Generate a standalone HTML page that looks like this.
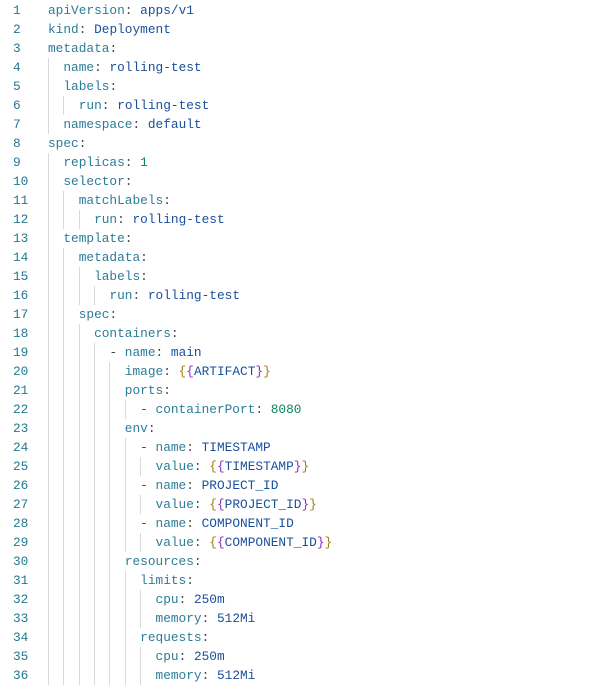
<!DOCTYPE html>
<html><head><meta charset="utf-8"><style>
body{margin:0;background:#fff;width:610px;height:688px;overflow:hidden;position:relative;font-family:"Liberation Mono","DejaVu Sans Mono",monospace;font-size:12.8px}
.l{position:absolute;left:0;height:19px;line-height:19px;white-space:pre;width:610px}
.n{position:absolute;left:13px;color:#237893}
.c{position:absolute;left:48px}
.g{position:absolute;top:0;width:1px;height:19px;background:#d9d9d9}
.k{color:#2b7d98}.p{color:#444}.v{color:#1a4f9c}.d{color:#098658}.b1{color:#a37b0a}.b2{color:#8b2bc4}
</style></head><body>
<script>
const L=[
"apiVersion: apps/v1","kind: Deployment","metadata:","  name: rolling-test","  labels:","    run: rolling-test","  namespace: default","spec:","  replicas: 1","  selector:","    matchLabels:","      run: rolling-test","  template:","    metadata:","      labels:","        run: rolling-test","    spec:","      containers:","        - name: main","          image: {{ARTIFACT}}","          ports:","            - containerPort: 8080","          env:","            - name: TIMESTAMP","              value: {{TIMESTAMP}}","            - name: PROJECT_ID","              value: {{PROJECT_ID}}","            - name: COMPONENT_ID","              value: {{COMPONENT_ID}}","          resources:","            limits:","              cpu: 250m","              memory: 512Mi","            requests:","              cpu: 250m","              memory: 512Mi"];
const cw=7.68;let h='';
function esc(s){return s.replace(/&/g,'&amp;').replace(/</g,'&lt;')}
function val(v){
 if(/^\d+$/.test(v))return '<span class="d">'+v+'</span>';
 let m=v.match(/^\{\{(.*)\}\}$/);
 if(m)return '<span class="b1">{</span><span class="b2">{</span><span class="v">'+esc(m[1])+'</span><span class="b2">}</span><span class="b1">}</span>';
 return '<span class="v">'+esc(v)+'</span>';}
L.forEach((s,i)=>{
 let ind=s.match(/^ */)[0].length;let rest=s.slice(ind);let pre=' '.repeat(ind);
 let g='';for(let c=0;c<ind;c+=2)g+='<div class="g" style="left:'+(48+c*cw).toFixed(1)+'px"></div>';
 if(rest.startsWith('- ')){pre+='<span class="p">- </span>';rest=rest.slice(2);}
 let idx=rest.indexOf(':');let key=rest.slice(0,idx);let v=rest.slice(idx+1).trim();
 let html=pre+'<span class="k">'+key+'</span><span class="p">:</span>'+(v?' '+val(v):'');
 h+='<div class="l" style="top:'+(19*i+1)+'px"><span class="n">'+(i+1)+'</span>'+g+'<span class="c">'+html+'</span></div>';
});
document.write(h);
</script>
</body></html>
